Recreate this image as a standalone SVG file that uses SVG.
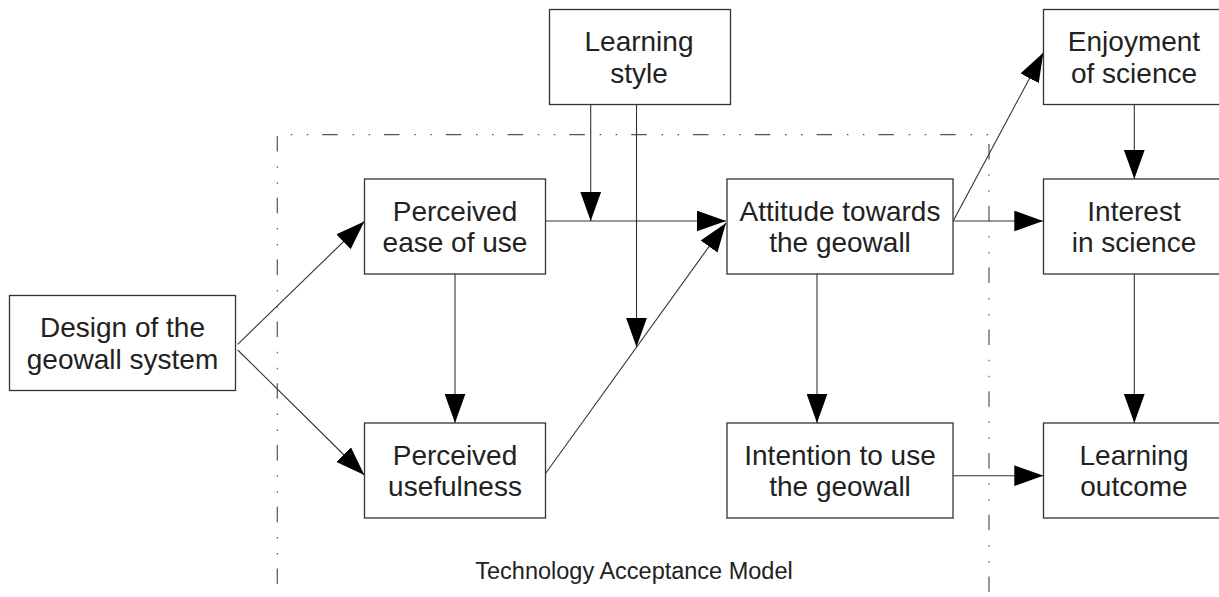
<svg xmlns="http://www.w3.org/2000/svg" width="1219" height="597" viewBox="0 0 1219 597">
<style>
.box{fill:#fff;stroke:#333;stroke-width:1.3}
.lbl{font-family:"Liberation Sans",Arial,Helvetica,sans-serif;font-size:28px;fill:#222;text-anchor:middle}
.con{fill:none;stroke:#333;stroke-width:1.1}
.arr{marker-end:url(#ah)}
.dash{fill:none;stroke:#555;stroke-width:1.2;stroke-dasharray:15.5 14.8 1.5 14.5 1.5 14}
</style>
<defs>
<marker id="ah" markerUnits="userSpaceOnUse" markerWidth="29" markerHeight="21" viewBox="0 0 28 20" refX="28" refY="10" orient="auto">
<path d="M0,0 L28,10 L0,20 z" fill="#000"/>
</marker>
</defs>
<rect width="1219" height="597" fill="#fff"/>
<g id="tam-boundary">
<line class="dash" x1="277.3" y1="134.7" x2="989" y2="134.7" stroke-dashoffset="16.9"/>
<line class="dash" x1="277.3" y1="134.7" x2="277.3" y2="597" stroke-dashoffset="60.5"/>
<line class="dash" x1="989" y1="134.7" x2="989" y2="597" stroke-dashoffset="52.5"/>
<text x="634" y="579" font-family="Liberation Sans,Arial,sans-serif" font-size="23.5" fill="#222" text-anchor="middle">Technology Acceptance Model</text>
</g>
<g id="connectors">
<line class="con arr" x1="237.7" y1="344.3" x2="364.3" y2="221.5"/>
<line class="con arr" x1="237.7" y1="350" x2="364.3" y2="475"/>
<line class="con arr" x1="455" y1="274" x2="455" y2="423"/>
<line class="con arr" x1="545.5" y1="221" x2="726" y2="221"/>
<line class="con arr" x1="545.7" y1="473.3" x2="726" y2="223"/>
<line class="con arr" x1="590.7" y1="105" x2="590.7" y2="221"/>
<line class="con arr" x1="636.5" y1="105" x2="636.5" y2="347"/>
<line class="con arr" x1="953.3" y1="220.7" x2="1043.3" y2="52.7"/>
<line class="con arr" x1="953.3" y1="221" x2="1043.3" y2="221"/>
<line class="con arr" x1="817" y1="274" x2="817" y2="423"/>
<line class="con arr" x1="1134.3" y1="104.5" x2="1134.3" y2="179"/>
<line class="con arr" x1="1134.3" y1="274" x2="1134.3" y2="423"/>
<line class="con arr" x1="953.3" y1="475.7" x2="1043.3" y2="475.7"/>
</g>
<g id="design">
<rect class="box" x="9.5" y="295.5" width="226" height="95"/>
<text class="lbl" y="337"><tspan x="122.5">Design of the</tspan><tspan x="122.5" dy="31.5">geowall system</tspan></text>
</g>
<g id="ease">
<rect class="box" x="364.5" y="179" width="181" height="95"/>
<text class="lbl" y="220.5"><tspan x="455">Perceived</tspan><tspan x="455" dy="31.5">ease of use</tspan></text>
</g>
<g id="usefulness">
<rect class="box" x="364.5" y="423" width="181" height="95"/>
<text class="lbl" y="464.5"><tspan x="455">Perceived</tspan><tspan x="455" dy="31.5">usefulness</tspan></text>
</g>
<g id="learning-style">
<rect class="box" x="549.5" y="9.5" width="181" height="95"/>
<text class="lbl" y="51"><tspan x="639">Learning</tspan><tspan x="639" dy="31.5">style</tspan></text>
</g>
<g id="attitude">
<rect class="box" x="727" y="179" width="226" height="95"/>
<text class="lbl" y="220.5"><tspan x="840">Attitude towards</tspan><tspan x="840" dy="31.5">the geowall</tspan></text>
</g>
<g id="intention">
<rect class="box" x="727" y="423" width="226" height="95"/>
<text class="lbl" y="464.5"><tspan x="840">Intention to use</tspan><tspan x="840" dy="31.5">the geowall</tspan></text>
</g>
<g id="enjoyment">
<rect class="box" x="1043.5" y="9.5" width="181" height="95"/>
<text class="lbl" y="51"><tspan x="1134">Enjoyment</tspan><tspan x="1134" dy="31.5">of science</tspan></text>
</g>
<g id="interest">
<rect class="box" x="1043.5" y="179" width="181" height="95"/>
<text class="lbl" y="220.5"><tspan x="1134">Interest</tspan><tspan x="1134" dy="31.5">in science</tspan></text>
</g>
<g id="outcome">
<rect class="box" x="1043.5" y="423" width="181" height="95"/>
<text class="lbl" y="464.5"><tspan x="1134">Learning</tspan><tspan x="1134" dy="31.5">outcome</tspan></text>
</g>
</svg>
